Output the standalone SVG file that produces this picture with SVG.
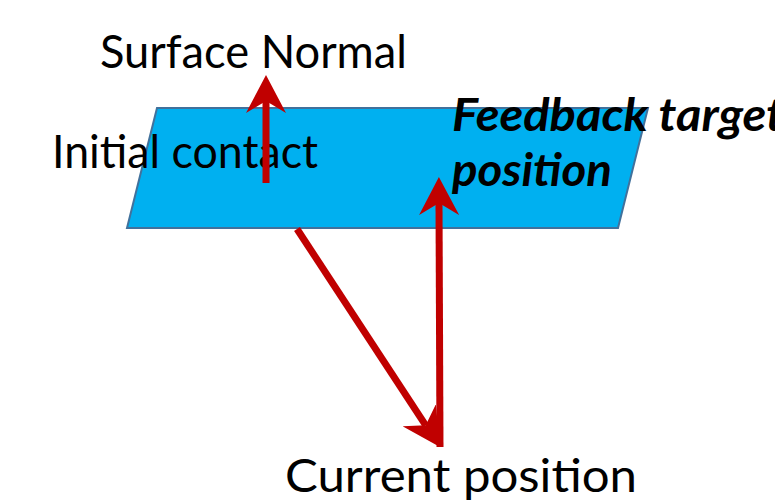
<svg xmlns="http://www.w3.org/2000/svg" width="775" height="503" viewBox="0 0 775 503">
<style>
.lbl{font-family:Lato,"Open Sans","Liberation Sans",sans-serif;font-size:46px;fill:#000}
.bi{font-family:Lato,"Open Sans","Liberation Sans",sans-serif;font-size:45px;font-weight:bold;font-style:italic;fill:#000}
.arr{stroke:#c00000;stroke-width:7;fill:none;marker-end:url(#head)}
</style>
<defs>
<marker id="head" markerUnits="userSpaceOnUse" viewBox="0 0 38 40" refX="12" refY="20" markerWidth="38" markerHeight="40" orient="auto">
<path d="M38,20 L0,0 L12,20 L0,40 Z" fill="#c00000"/>
</marker>
</defs>
<rect width="775" height="503" fill="#fff"/>
<g id="plane">
<polygon points="157,108 648,108 618,228 127,228" fill="#00b0f0" stroke="#41719c" stroke-width="2"/>
</g>
<g id="surface-normal">
<text class="lbl" x="100" y="68" textLength="307" lengthAdjust="spacingAndGlyphs">Surface Normal</text>
</g>
<g id="initial-contact">
<text class="lbl" x="52" y="168" textLength="266" lengthAdjust="spacingAndGlyphs">Initial contact</text>
</g>
<g id="feedback-target">
<text class="bi" x="452" y="131" textLength="332" lengthAdjust="spacingAndGlyphs">Feedback target</text>
<text class="bi" x="452" y="186" textLength="160" lengthAdjust="spacingAndGlyphs">position</text>
</g>
<g id="current-position">
<text class="lbl" x="285" y="492" textLength="352" lengthAdjust="spacingAndGlyphs">Current position</text>
</g>
<g id="connectors">
<path class="arr" d="M266,183 L266,101"/>
<path class="arr" d="M297,229 L425.7,425.3"/>
<path class="arr" d="M440,447 L439,203"/>
</g>
</svg>
